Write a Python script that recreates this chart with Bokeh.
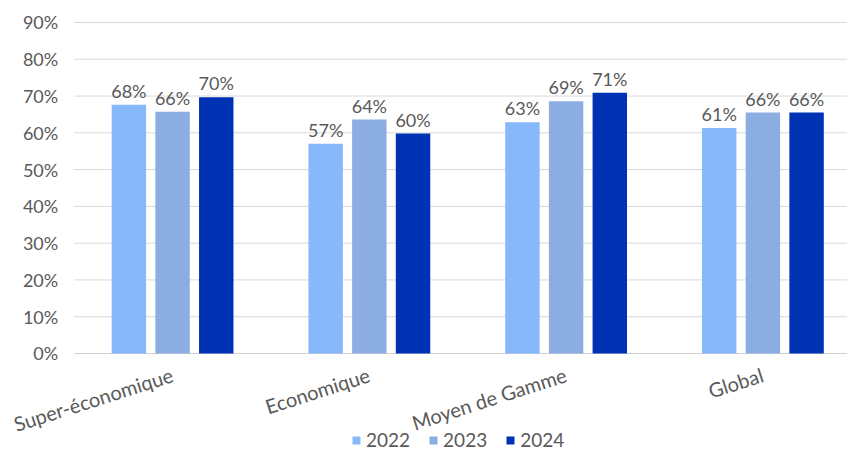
from bokeh.plotting import figure
from bokeh.models import ColumnDataSource, Range1d, Legend, LegendItem
from bokeh.core.properties import value
from bokeh.embed import file_html
from bokeh.resources import INLINE

categories = ["Super-économique", "Economique", "Moyen de Gamme", "Global"]
years = ["2022", "2023", "2024"]
v2022 = [0.676, 0.570, 0.629, 0.613]
v2023 = [0.657, 0.636, 0.686, 0.655]
v2024 = [0.697, 0.598, 0.709, 0.655]
y_ticks = [0.0, 0.1, 0.2, 0.3, 0.4, 0.5, 0.6, 0.7, 0.8, 0.9]
y_tick_labels = ["0%", "10%", "20%", "30%", "40%", "50%", "60%", "70%", "80%", "90%"]

colors = ["#86B8FA", "#8CADE2", "#0032B4"]
offsets = [-0.222, 0.0, 0.222]
bar_w = 0.175
FONT = "Lato"
GRAY = "#595959"
n = len(categories)
band_lo, band_hi = -0.5, n - 0.5

p = figure(width=847, height=451, output_backend="svg", toolbar_location=None,
           x_range=Range1d(-0.8745, 3.43), y_range=Range1d(-0.2665, 0.9598),
           min_border_left=0, min_border_right=0, min_border_top=0, min_border_bottom=0)
p.outline_line_color = None
p.xaxis.visible = False
p.yaxis.visible = False
p.grid.visible = False

# gridlines across the category bands
grid_src = ColumnDataSource(dict(x0=[band_lo] * len(y_ticks), x1=[band_hi] * len(y_ticks), y=y_ticks,
                                 lab=y_tick_labels,
                                 c=["#cfcfcf"] + ["#d9d9d9"] * (len(y_ticks) - 1)))
p.segment(x0="x0", y0="y", x1="x1", y1="y", source=grid_src, line_color="c", line_width=1)
p.text(x="x0", y="y", text="lab", source=grid_src, text_align="right", text_baseline="middle",
       x_offset=-16, text_font=value(FONT), text_font_size="18px", text_color=GRAY)

items = []
for yr, vals, c, off in zip(years, [v2022, v2023, v2024], colors, offsets):
    xs = [i + off for i in range(n)]
    src = ColumnDataSource(dict(x=xs, top=vals, lab=[f"{round(v*100)}%" for v in vals]))
    r = p.vbar(x="x", top="top", width=bar_w, source=src, fill_color=c, line_color=None)
    p.text(x="x", y="top", text="lab", source=src, text_align="center", text_baseline="alphabetic",
           y_offset=-14, text_font=value(FONT), text_font_size="18px", text_color=GRAY)
    items.append(LegendItem(label=yr, renderers=[r]))

# category labels (rotated) under the baseline
cat_src = ColumnDataSource(dict(x=list(range(n)), y=[0] * n, t=categories))
p.text(x="x", y="y", text="t", source=cat_src, angle=0.31, text_align="right", text_baseline="top",
       x_offset=-4, y_offset=9, text_font=value(FONT), text_font_size="20px", text_color=GRAY)

legend = Legend(items=items, orientation="horizontal", location=(351, 0),
                glyph_width=10, glyph_height=10, label_standoff=5, spacing=18,
                border_line_color=None, background_fill_alpha=0, padding=0, margin=0,
                label_text_font=FONT, label_text_font_size="19px", label_text_color=GRAY)
p.add_layout(legend, "center")

open("out.html", "w").write(file_html(p, INLINE))
